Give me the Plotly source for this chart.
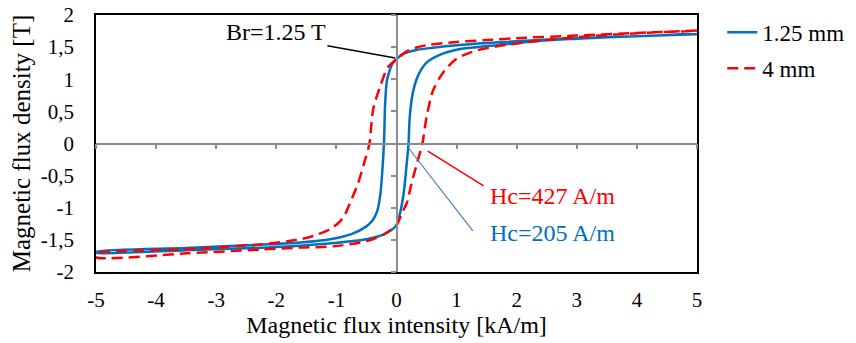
import plotly.graph_objects as go

# ---- data ----
# 1.25 mm sample: descending branch then ascending branch (H in kA/m, B in T)
h_125_down = [5, 4, 3, 2, 1.5, 1.0, 0.6, 0.35, 0.18, 0.08, 0.0, -0.04, -0.08, -0.12, -0.16,
              -0.19, -0.205, -0.22, -0.24, -0.27, -0.32, -0.40, -0.5, -0.75, -1.1, -1.6, -2.5, -3.5, -5]
b_125_down = [1.70, 1.67, 1.64, 1.59, 1.565, 1.53, 1.49, 1.46, 1.42, 1.38, 1.31, 1.28, 1.22, 1.12, 0.98,
              0.6, 0.1, -0.2, -0.48, -0.8, -1.05, -1.2, -1.29, -1.41, -1.49, -1.54, -1.585, -1.625, -1.685]
h_125_up = [-5, -3.5, -2.5, -1.6, -1.05, -0.5, -0.22, 0.0, 0.06, 0.12, 0.16, 0.2, 0.22, 0.27,
            0.36, 0.5, 0.72, 1.06, 1.56, 2.4, 3.0, 4.0, 5]
b_125_up = [-1.70, -1.66, -1.63, -1.59, -1.55, -1.49, -1.42, -1.27, -1.08, -0.77, -0.41, 0.0, 0.41, 0.78,
            1.06, 1.26, 1.38, 1.47, 1.52, 1.60, 1.63, 1.67, 1.70]

# 4 mm sample
h_4_down = [5, 4, 3, 2, 1.5, 1.0, 0.5, 0.2, 0.0, -0.14, -0.275, -0.39, -0.45, -0.525, -0.64,
            -0.775, -0.89, -1.08, -1.39, -1.6, -2.25, -3.36, -5]
b_4_down = [1.76, 1.72, 1.68, 1.64, 1.61, 1.58, 1.53, 1.45, 1.31, 1.19, 0.88, 0.52, 0.0, -0.26, -0.62,
            -0.93, -1.16, -1.32, -1.44, -1.49, -1.57, -1.64, -1.72]
h_4_up = [-5, -3.5, -2.25, -1.61, -1.05, -0.5, -0.22, 0.0, 0.09, 0.17, 0.25, 0.34, 0.43, 0.5,
          0.61, 0.78, 1.0, 1.34, 1.72, 2.39, 3.5, 5]
b_4_up = [-1.77, -1.71, -1.65, -1.62, -1.60, -1.52, -1.42, -1.27, -1.08, -0.93, -0.62, -0.31, 0.0, 0.41,
          0.83, 1.11, 1.32, 1.45, 1.52, 1.60, 1.69, 1.755]

series_names = ["1.25 mm", "4 mm"]

x_tickvals = [-5, -4, -3, -2, -1, 0, 1, 2, 3, 4, 5]
x_ticktext = ["-5", "-4", "-3", "-2", "-1", "0", "1", "2", "3", "4", "5"]
y_tickvals = [2, 1.5, 1, 0.5, 0, -0.5, -1, -1.5, -2]
y_ticktext = ["2", "1,5", "1", "0,5", "0", "-0,5", "-1", "-1,5", "-2"]

FONT = "Liberation Serif, Times New Roman, Times, serif"
BLUE = "#0070C0"
RED = "#FF0000"
GRAY = "#8C8C8C"

fig = go.Figure()
# helper (invisible) trace so that the crossing zero axes are drawn
fig.add_trace(go.Scatter(x=[0], y=[0], xaxis="x2", yaxis="y2", mode="markers",
                         marker=dict(opacity=0), showlegend=False, hoverinfo="skip"))
fig.add_trace(go.Scatter(x=h_125_down + h_125_up, y=b_125_down + b_125_up, mode="lines",
                         name=series_names[0], legendgroup="a",
                         line=dict(color=BLUE, width=2.5, shape="spline", smoothing=0.8)))
fig.add_trace(go.Scatter(x=h_4_down + h_4_up, y=b_4_down + b_4_up, mode="lines",
                         name=series_names[1], legendgroup="b",
                         line=dict(color=RED, width=2.5, dash="11px,6px", shape="spline", smoothing=0.8)))

# leader lines for annotations
fig.add_shape(type="line", x0=-1.15, y0=1.52, x1=-0.02, y1=1.33, line=dict(color="black", width=1.5))
fig.add_shape(type="line", x0=0.52, y0=-0.12, x1=1.45, y1=-0.66, line=dict(color=RED, width=1.5))
fig.add_shape(type="line", x0=0.2, y0=-0.07, x1=1.27, y1=-1.36, line=dict(color="#4A7EBB", width=1.2))

fig.add_annotation(x=-2.0, y=1.73, text="Br=1.25 T", showarrow=False,
                   font=dict(family=FONT, size=24, color="black"))
fig.add_annotation(x=1.52, y=-0.82, text="Hc=427 A/m", showarrow=False, xanchor="left",
                   font=dict(family=FONT, size=24, color=RED))
fig.add_annotation(x=1.52, y=-1.39, text="Hc=205 A/m", showarrow=False, xanchor="left",
                   font=dict(family=FONT, size=24, color=BLUE))

# note: page body adds an 8px offset, so margins are reduced by 8 at left/top
fig.update_layout(
    template="none",
    width=856, height=343,
    margin=dict(l=88, r=167, t=7, b=79, autoexpand=False),
    paper_bgcolor="white", plot_bgcolor="white",
    font=dict(family=FONT, size=21, color="black"),
    showlegend=True,
    legend=dict(x=1.042, y=1.016, xanchor="left", yanchor="top",
                font=dict(family=FONT, size=23, color="black"),
                bgcolor="rgba(0,0,0,0)", tracegroupgap=3, traceorder="grouped"),
    xaxis=dict(range=[-5, 5], tickvals=x_tickvals, ticktext=x_ticktext, automargin=False,
               showgrid=False, zeroline=False, showline=True, mirror=True,
               linecolor="black", linewidth=1.5, ticklabeloverflow="allow",
               ticks="outside", ticklen=8, tickcolor="rgba(0,0,0,0)",
               tickfont=dict(family=FONT, size=21),
               title=dict(text="Magnetic flux intensity [kA/m]", standoff=3,
                          font=dict(family=FONT, size=24))),
    yaxis=dict(range=[-2, 2], tickvals=y_tickvals, ticktext=y_ticktext, automargin=False,
               showgrid=False, zeroline=False, showline=True, mirror=True,
               linecolor="black", linewidth=1.5, ticklabeloverflow="allow",
               ticks="outside", ticklen=16, tickcolor="rgba(0,0,0,0)",
               tickfont=dict(family=FONT, size=21),
               title=dict(text="Magnetic flux density [T]", standoff=6,
                          font=dict(family=FONT, size=25))),
    xaxis2=dict(overlaying="x", matches="x", anchor="free", position=0.5, automargin=False,
                tickvals=x_tickvals, showticklabels=False, showgrid=False, zeroline=False,
                showline=True, linecolor=GRAY, linewidth=1.5,
                ticks="outside", ticklen=5, tickcolor=GRAY, tickwidth=1.5),
    yaxis2=dict(overlaying="y", matches="y", anchor="free", position=0.5, automargin=False,
                tickvals=y_tickvals, showticklabels=False, showgrid=False, zeroline=False,
                showline=True, linecolor=GRAY, linewidth=1.5,
                ticks="outside", ticklen=5, tickcolor=GRAY, tickwidth=1.5),
)

fig.write_html("out.html")
